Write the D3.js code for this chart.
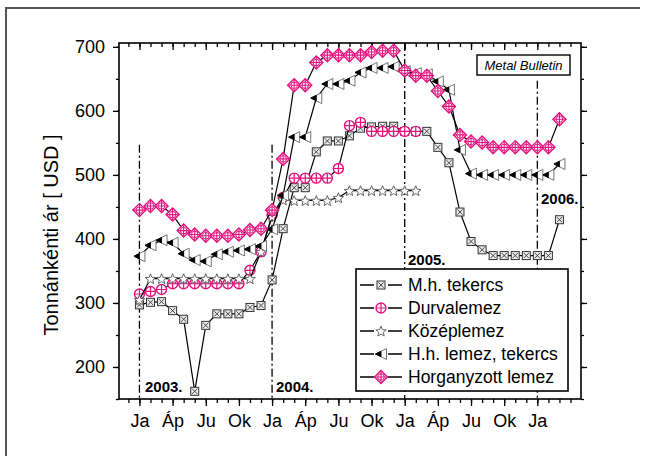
<!DOCTYPE html>
<html>
<head>
<meta charset="utf-8">
<script src="https://cdn.jsdelivr.net/npm/d3@7"></script>
<style>
  body { margin: 0; background: #fff; }
  svg { display: block; font-family: Arial, "Liberation Sans", sans-serif; }
</style>
</head>
<body>
<div id="chart"></div>
<script>
var width = 646;
var height = 456;
var margin = {top: 43, left: 119, right: 65, bottom: 57};

// month index 0 = Jan 2003
var tickLabels = ["Ja", "Áp", "Ju", "Ok"];
var yearLabels = ["2003.", "2004.", "2005.", "2006."];

var mhTekercs = [297,301,302,288,274.5,162,265,283,283,283,
                 293,296,336,416,480,480,536,553,553,561,
                 573,575,576,576,568,568,568,543,519,442,
                 396,383,374,374,374,374,374,374,430];
var durvalemez = [314,318,321,330,330,330,330,330,330,330,
                  351,380,437,465,495,495,495,495,510,577,
                  582,568,568,568,568,568];
var kozeplemez = [305,338,338,338,338,338,338,338,338,338,
                  338,380,435,461,460,460,460,460,464.5,475.5,
                  475.5,475.5,475.5,475.5,475.5,475.5];
var hhLemez = [373,390,398,394,377,367,365,376,380,382,
               384,389,415,468,559,559,620,642,642,647,
               660,667,667,669,662,659,657,646,633,539,
               502,500,500,500,500,500,500,500,517];
var horganyzott = [445,451.5,451.5,438,413,407,405,405,405,407,
                   414,416,445,525,640,640,675.5,687,687,687,
                   687,692,694,694,663,655,655,631,607,562.5,
                   552,550.5,543,543,543,543,543,543,587];

var pink = "#e5127d";

var series = [
  {name: "M.h. tekercs", values: mhTekercs, marker: "square"},
  {name: "Durvalemez", values: durvalemez, marker: "circle"},
  {name: "Középlemez", values: kozeplemez, marker: "star"},
  {name: "H.h. lemez, tekercs", values: hhLemez, marker: "triangle"},
  {name: "Horganyzott lemez", values: horganyzott, marker: "diamond"}
];

var svg = d3.select("#chart").append("svg")
  .attr("width", width)
  .attr("height", height);

// outer frame (top + left only)
svg.append("path")
  .attr("d", "M6,456 L6,8 L640,8")
  .attr("fill", "none")
  .attr("stroke", "#555")
  .attr("stroke-width", 2);

var xScale = d3.scaleLinear()
  .domain([-1.85, 39.95])
  .range([margin.left, width - margin.right]);
var yScale = d3.scaleLinear()
  .domain([150, 706])
  .range([height - margin.bottom, margin.top]);

var x0 = margin.left, x1 = width - margin.right;
var y0 = height - margin.bottom, y1 = margin.top;

// axes
var minorMonths = d3.range(-1, 40);
var majorMonths = d3.range(0, 37, 3);

function styleAxis(g) {
  g.select(".domain").remove();
  g.selectAll("line").attr("stroke", "#000").attr("stroke-width", 1.3);
  g.selectAll("text").attr("fill", "#000").style("font-size", "18px")
    .style("font-family", "Arial, 'Liberation Sans', sans-serif");
}

svg.append("g")
  .attr("transform", `translate(0,${y0})`)
  .call(d3.axisBottom(xScale).tickValues(minorMonths).tickSize(4).tickFormat(""))
  .call(styleAxis);
svg.append("g")
  .attr("transform", `translate(0,${y0})`)
  .call(d3.axisBottom(xScale).tickValues(majorMonths).tickSize(7).tickPadding(8)
    .tickFormat(function(d){ return tickLabels[(d / 3) % 4]; }))
  .call(styleAxis);
svg.append("g")
  .attr("transform", `translate(0,${y1})`)
  .call(d3.axisBottom(xScale).tickValues(minorMonths).tickSize(4).tickFormat(""))
  .call(styleAxis);
svg.append("g")
  .attr("transform", `translate(0,${y1})`)
  .call(d3.axisBottom(xScale).tickValues(majorMonths).tickSize(7).tickFormat(""))
  .call(styleAxis);

svg.append("g")
  .attr("transform", `translate(${x0},0)`)
  .call(d3.axisLeft(yScale).tickValues(d3.range(150, 701, 50)).tickSize(3).tickFormat(""))
  .call(styleAxis);
svg.append("g")
  .attr("transform", `translate(${x0},0)`)
  .call(d3.axisLeft(yScale).tickValues(d3.range(200, 701, 100)).tickSize(6).tickPadding(8))
  .call(styleAxis);
svg.append("g")
  .attr("transform", `translate(${x1},0)`)
  .call(d3.axisLeft(yScale).tickValues(d3.range(150, 701, 50)).tickSize(-3).tickFormat(""))
  .call(styleAxis);
svg.append("g")
  .attr("transform", `translate(${x1},0)`)
  .call(d3.axisLeft(yScale).tickValues(d3.range(200, 701, 100)).tickSize(-6).tickFormat(""))
  .call(styleAxis);

svg.append("rect")
  .attr("x", x0).attr("y", y1)
  .attr("width", x1 - x0).attr("height", y0 - y1)
  .attr("fill", "none")
  .attr("stroke", "#000")
  .attr("stroke-width", 1.6);

svg.append("text")
  .attr("transform", `translate(53,235) rotate(-90)`)
  .attr("text-anchor", "middle")
  .attr("dominant-baseline", "middle")
  .style("font-size", "20px")
  .text("Tonnánkénti ár [ USD ]");

// year separators (dash-dot)
var yearMonths = [0, 12, 24, 36];
var yearTops = [547, 547, 706, 647];
var yearLabelPos = [[145, 392], [276, 392], [408, 265], [541, 204]];
yearMonths.forEach(function(m, i) {
  svg.append("line")
    .attr("x1", xScale(m)).attr("x2", xScale(m))
    .attr("y1", yScale(yearTops[i])).attr("y2", y0)
    .attr("stroke", "#000")
    .attr("stroke-width", 1.3)
    .attr("stroke-dasharray", "8,3,2,3");
  svg.append("text")
    .attr("x", yearLabelPos[i][0]).attr("y", yearLabelPos[i][1])
    .style("font-size", "15px").style("font-weight", "bold")
    .text(yearLabels[i]);
});

// markers
function drawMarker(g, type, cx, cy) {
  if (type === "square") {
    var s = 4;
    g.append("rect").attr("x", cx - s).attr("y", cy - s).attr("width", 2 * s).attr("height", 2 * s)
      .attr("fill", "#ececec").attr("stroke", "#333").attr("stroke-width", 1);
    g.append("path").attr("d", `M${cx-2.6},${cy-2.6}L${cx+2.6},${cy+2.6}M${cx+2.6},${cy-2.6}L${cx-2.6},${cy+2.6}`)
      .attr("stroke", "#333").attr("stroke-width", 0.9);
  } else if (type === "circle") {
    g.append("circle").attr("cx", cx).attr("cy", cy).attr("r", 5)
      .attr("fill", "#fff").attr("stroke", pink).attr("stroke-width", 1.4);
    g.append("path").attr("d", `M${cx-5},${cy}L${cx+5},${cy}M${cx},${cy-5}L${cx},${cy+5}`)
      .attr("stroke", pink).attr("stroke-width", 1.2);
  } else if (type === "star") {
    var pts = d3.range(10).map(function(k) {
      var r = k % 2 === 0 ? 5.5 : 2.4;
      var a = -Math.PI / 2 + k * Math.PI / 5;
      return [cx + r * Math.cos(a), cy + r * Math.sin(a) + 0.6];
    });
    g.append("path").attr("d", "M" + pts.join("L") + "Z")
      .attr("fill", "#fff").attr("stroke", "#555").attr("stroke-width", 0.9);
  } else if (type === "triangle") {
    var w = 5.5, h = 5.5;
    g.append("path").attr("d", `M${cx-w},${cy}L${cx+w},${cy-h}L${cx+w},${cy+h}Z`)
      .attr("fill", "#fff").attr("stroke", "#666").attr("stroke-width", 0.9);
    g.append("path").attr("d", `M${cx-w},${cy}L${cx},${cy-h/2}L${cx},${cy+h/2}Z`)
      .attr("fill", "#000").attr("stroke", "#000").attr("stroke-width", 0.9);
  } else if (type === "diamond") {
    var d = 6.5;
    g.append("path").attr("d", `M${cx},${cy-d}L${cx+d},${cy}L${cx},${cy+d}L${cx-d},${cy}Z`)
      .attr("fill", "#fff").attr("stroke", pink).attr("stroke-width", 1.4);
    g.append("circle").attr("cx", cx).attr("cy", cy).attr("r", 3.3)
      .attr("fill", "none").attr("stroke", pink).attr("stroke-width", 1);
    g.append("path").attr("d", `M${cx-d},${cy}L${cx+d},${cy}M${cx},${cy-d}L${cx},${cy+d}`)
      .attr("stroke", pink).attr("stroke-width", 1.1);
  }
}

var line = d3.line()
  .x(function(d, i) { return xScale(i); })
  .y(function(d) { return yScale(d); });

series.forEach(function(s) {
  var g = svg.append("g");
  g.append("path")
    .attr("d", line(s.values))
    .attr("fill", "none")
    .attr("stroke", "#000")
    .attr("stroke-width", 1.2);
  s.values.forEach(function(v, i) {
    drawMarker(g, s.marker, xScale(i), yScale(v));
  });
});

// legend
var legend = svg.append("g");
legend.append("rect")
  .attr("x", 356).attr("y", 269).attr("width", 212).attr("height", 122)
  .attr("fill", "#fff").attr("stroke", "#000").attr("stroke-width", 1.6);
series.forEach(function(s, i) {
  var cy = 285 + i * 23;
  var lg = legend.append("g");
  lg.append("path")
    .attr("d", `M360,${cy}L374,${cy}M388,${cy}L402,${cy}`)
    .attr("stroke", "#000").attr("stroke-width", 1.4);
  drawMarker(lg, s.marker, 381, cy);
  lg.append("text")
    .attr("x", 408).attr("y", cy)
    .attr("dy", "0.36em")
    .style("font-size", "17.5px")
    .text(s.name);
});

// source box
svg.append("rect")
  .attr("x", 477).attr("y", 55).attr("width", 93).attr("height", 20)
  .attr("fill", "#fff").attr("stroke", "#000").attr("stroke-width", 1.4);
svg.append("text")
  .attr("x", 523.5).attr("y", 69.5)
  .attr("text-anchor", "middle")
  .style("font-size", "13px").style("font-style", "italic")
  .text("Metal Bulletin");
</script>
</body>
</html>
